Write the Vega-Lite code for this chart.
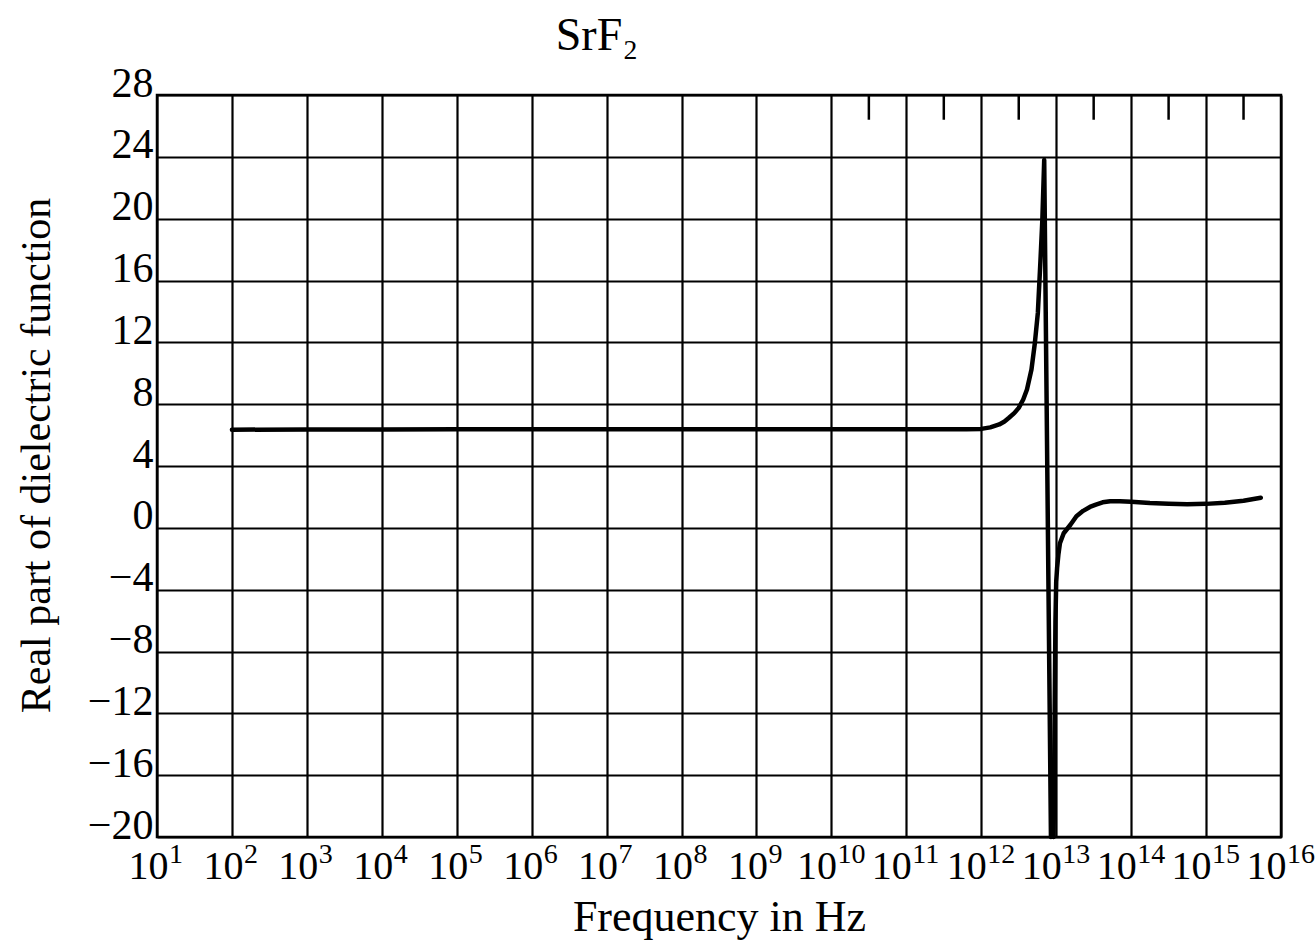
{
  "$schema": "https://vega.github.io/schema/vega-lite/v6.json",
  "width": 1124,
  "height": 742,
  "autosize": {"type": "none"},
  "padding": {"left": 157, "top": 95, "right": 35, "bottom": 108},
  "background": "white",
  "config": {
    "view": {"stroke": "black", "strokeWidth": 2.5},
    "font": "Liberation Serif"
  },
  "title": {
    "text": "SrF₂",
    "font": "Liberation Serif",
    "fontSize": 46,
    "fontWeight": "normal",
    "color": "black",
    "dx": -122,
    "offset": 2
  },
  "datasets": {
    "curve": [
      {"branch": "a", "log10_freq": 2.0, "eps": 6.35},
      {"branch": "a", "log10_freq": 3.0, "eps": 6.36},
      {"branch": "a", "log10_freq": 4.0, "eps": 6.36},
      {"branch": "a", "log10_freq": 5.0, "eps": 6.37},
      {"branch": "a", "log10_freq": 6.0, "eps": 6.37},
      {"branch": "a", "log10_freq": 7.0, "eps": 6.37},
      {"branch": "a", "log10_freq": 8.0, "eps": 6.37},
      {"branch": "a", "log10_freq": 9.0, "eps": 6.37},
      {"branch": "a", "log10_freq": 10.0, "eps": 6.37},
      {"branch": "a", "log10_freq": 11.0, "eps": 6.37},
      {"branch": "a", "log10_freq": 11.8, "eps": 6.37},
      {"branch": "a", "log10_freq": 12.0, "eps": 6.4},
      {"branch": "a", "log10_freq": 12.12, "eps": 6.5},
      {"branch": "a", "log10_freq": 12.24, "eps": 6.69},
      {"branch": "a", "log10_freq": 12.31, "eps": 6.88},
      {"branch": "a", "log10_freq": 12.37, "eps": 7.12},
      {"branch": "a", "log10_freq": 12.44, "eps": 7.42},
      {"branch": "a", "log10_freq": 12.5, "eps": 7.76},
      {"branch": "a", "log10_freq": 12.56, "eps": 8.3},
      {"branch": "a", "log10_freq": 12.61, "eps": 8.95},
      {"branch": "a", "log10_freq": 12.67, "eps": 10.24},
      {"branch": "a", "log10_freq": 12.715, "eps": 11.95},
      {"branch": "a", "log10_freq": 12.755, "eps": 13.9},
      {"branch": "a", "log10_freq": 12.79, "eps": 17.3},
      {"branch": "a", "log10_freq": 12.815, "eps": 19.9},
      {"branch": "a", "log10_freq": 12.84, "eps": 23.8},
      {"branch": "a", "log10_freq": 12.93, "eps": -20},
      {"branch": "b", "log10_freq": 12.965, "eps": -20},
      {"branch": "b", "log10_freq": 12.99, "eps": -6},
      {"branch": "b", "log10_freq": 13.0, "eps": -3.5},
      {"branch": "b", "log10_freq": 13.012, "eps": -2.6},
      {"branch": "b", "log10_freq": 13.03, "eps": -1.7},
      {"branch": "b", "log10_freq": 13.05, "eps": -1.0},
      {"branch": "b", "log10_freq": 13.1, "eps": -0.35},
      {"branch": "b", "log10_freq": 13.19, "eps": 0.2},
      {"branch": "b", "log10_freq": 13.27, "eps": 0.75},
      {"branch": "b", "log10_freq": 13.36, "eps": 1.1},
      {"branch": "b", "log10_freq": 13.45, "eps": 1.35},
      {"branch": "b", "log10_freq": 13.53, "eps": 1.5},
      {"branch": "b", "log10_freq": 13.62, "eps": 1.65},
      {"branch": "b", "log10_freq": 13.72, "eps": 1.72},
      {"branch": "b", "log10_freq": 13.85, "eps": 1.72},
      {"branch": "b", "log10_freq": 14.0, "eps": 1.68},
      {"branch": "b", "log10_freq": 14.25, "eps": 1.6},
      {"branch": "b", "log10_freq": 14.5, "eps": 1.55},
      {"branch": "b", "log10_freq": 14.75, "eps": 1.52},
      {"branch": "b", "log10_freq": 15.0, "eps": 1.55},
      {"branch": "b", "log10_freq": 15.25, "eps": 1.62},
      {"branch": "b", "log10_freq": 15.5, "eps": 1.75},
      {"branch": "b", "log10_freq": 15.73, "eps": 1.95}
    ],
    "halfDecadeTicks": [
      {"log10_freq": 10.5},
      {"log10_freq": 11.5},
      {"log10_freq": 12.5},
      {"log10_freq": 13.5},
      {"log10_freq": 14.5},
      {"log10_freq": 15.5}
    ],
    "exponents": [
      {"log10_freq": 1, "exponent": "1"},
      {"log10_freq": 2, "exponent": "2"},
      {"log10_freq": 3, "exponent": "3"},
      {"log10_freq": 4, "exponent": "4"},
      {"log10_freq": 5, "exponent": "5"},
      {"log10_freq": 6, "exponent": "6"},
      {"log10_freq": 7, "exponent": "7"},
      {"log10_freq": 8, "exponent": "8"},
      {"log10_freq": 9, "exponent": "9"},
      {"log10_freq": 10, "exponent": "10"},
      {"log10_freq": 11, "exponent": "11"},
      {"log10_freq": 12, "exponent": "12"},
      {"log10_freq": 13, "exponent": "13"},
      {"log10_freq": 14, "exponent": "14"},
      {"log10_freq": 15, "exponent": "15"},
      {"log10_freq": 16, "exponent": "16"}
    ]
  },
  "layer": [
    {
      "data": {"name": "halfDecadeTicks"},
      "mark": {"type": "rule", "color": "black", "strokeWidth": 2.5},
      "encoding": {
        "x": {"field": "log10_freq", "type": "quantitative", "scale": {"domain": [1, 16], "nice": false, "zero": false}},
        "y": {"datum": 28, "type": "quantitative", "scale": {"domain": [-20, 28], "nice": false, "zero": false}},
        "y2": {"datum": 26.4}
      }
    },
    {
      "data": {"name": "curve"},
      "mark": {"type": "line", "color": "black", "strokeWidth": 4.5, "strokeJoin": "round", "strokeCap": "round"},
      "encoding": {
        "x": {
          "field": "log10_freq",
          "type": "quantitative",
          "scale": {"domain": [1, 16], "nice": false, "zero": false},
          "axis": {
            "values": [1, 2, 3, 4, 5, 6, 7, 8, 9, 10, 11, 12, 13, 14, 15, 16],
            "labelExpr": "'10'",
            "labelOffset": {"condition": {"test": "datum.value >= 10", "value": -15}, "value": -9},
            "grid": true,
            "gridColor": "black",
            "gridWidth": 2.2,
            "gridOpacity": 1,
            "domain": false,
            "ticks": false,
            "labelFont": "Liberation Serif",
            "labelFontSize": 40,
            "labelColor": "black",
            "labelPadding": 9,
            "labelOverlap": false,
            "labelFlush": false,
            "title": "Frequency in Hz",
            "titleFont": "Liberation Serif",
            "titleFontSize": 44,
            "titleFontWeight": "normal",
            "titleColor": "black",
            "titlePadding": 9
          }
        },
        "y": {
          "field": "eps",
          "type": "quantitative",
          "scale": {"domain": [-20, 28], "nice": false, "zero": false},
          "axis": {
            "values": [-20, -16, -12, -8, -4, 0, 4, 8, 12, 16, 20, 24, 28],
            "grid": true,
            "gridColor": "black",
            "gridWidth": 2.2,
            "gridOpacity": 1,
            "domain": false,
            "ticks": false,
            "labelFont": "Liberation Serif",
            "labelFontSize": 42,
            "labelColor": "black",
            "labelPadding": 4,
            "labelOffset": -12,
            "labelOverlap": false,
            "labelFlush": false,
            "title": "Real part of dielectric function",
            "titleFont": "Liberation Serif",
            "titleFontSize": 42,
            "titleFontWeight": "normal",
            "titleColor": "black",
            "titleX": -121,
            "titleBaseline": "middle",
            "titleY": 360
          }
        },
        "detail": {"field": "branch"}
      }
    },
    {
      "data": {"name": "exponents"},
      "transform": [{"filter": "datum.log10_freq < 10"}],
      "mark": {"type": "text", "align": "left", "baseline": "top", "dx": 12, "dy": 4, "fontSize": 28, "font": "Liberation Serif", "color": "black"},
      "encoding": {
        "x": {"field": "log10_freq", "type": "quantitative"},
        "y": {"datum": -20, "type": "quantitative"},
        "text": {"field": "exponent"}
      }
    },
    {
      "data": {"name": "exponents"},
      "transform": [{"filter": "datum.log10_freq >= 10"}],
      "mark": {"type": "text", "align": "left", "baseline": "top", "dx": 6, "dy": 4, "fontSize": 28, "font": "Liberation Serif", "color": "black"},
      "encoding": {
        "x": {"field": "log10_freq", "type": "quantitative"},
        "y": {"datum": -20, "type": "quantitative"},
        "text": {"field": "exponent"}
      }
    }
  ]
}
